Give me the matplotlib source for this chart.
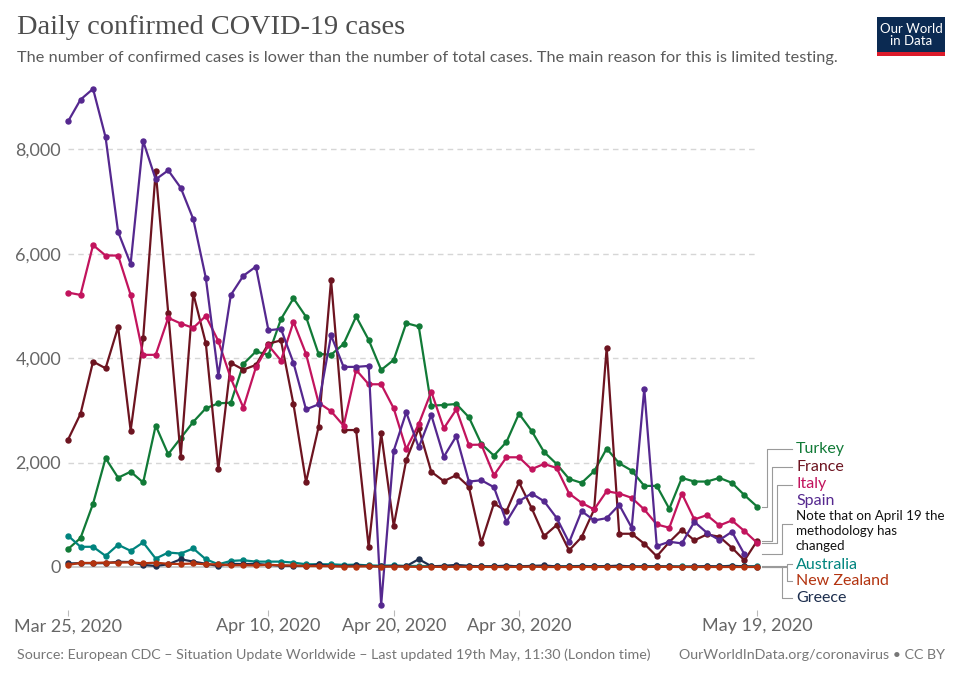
import numpy as np
import matplotlib
matplotlib.use("Agg")
import matplotlib.pyplot as plt
from matplotlib.lines import Line2D
from matplotlib.patches import Rectangle

plt.rcParams['font.family'] = ['Lato', 'DejaVu Sans']

# day index 0 = Mar 25, 2020 ... 55 = May 19, 2020
tick_days = [0, 16, 26, 36, 55]
tick_labels = ["Mar 25, 2020", "Apr 10, 2020", "Apr 20, 2020", "Apr 30, 2020", "May 19, 2020"]

turkey = [342, 555, 1213, 2084, 1710, 1826, 1619, 2710, 2161, 2471, 2781, 3040,
          3136, 3148, 3890, 4129, 4065, 4749, 5148, 4794, 4084, 4065, 4275, 4800,
          4352, 3776, 3968, 4672, 4608, 3091, 3104, 3123, 2870, 2357, 2134, 2395,
          2937, 2612, 2204, 1975, 1688, 1612, 1835, 2268, 1987, 1847, 1554, 1554,
          1115, 1707, 1637, 1637, 1707, 1612, 1376, 1159]
france = [2439, 2936, 3936, 3807, 4600, 2613, 4387, 7588, 4871, 2116, 5239, 4290,
          1871, 3910, 3781, 3871, 4278, 4342, 3116, 1626, 2678, 5497, 2624, 2624,
          384, 2560, 787, 2048, 2656, 1824, 1645, 1760, 1540, 465, 1217, 1070,
          1624, 1134, 592, 803, 318, 573, 1102, 4204, 637, 637, 446, 204,
          478, 713, 510, 624, 580, 369, 127, 497]
italy = [5258, 5213, 6168, 5968, 5968, 5213, 4065, 4065, 4774, 4665, 4581, 4810,
         4329, 3613, 3052, 3826, 4245, 3955, 4697, 4084, 3148, 2985, 2707, 3776,
         3501, 3501, 3040, 2259, 2739, 3360, 2656, 3021, 2340, 2344, 1758, 2102,
         2102, 1873, 1975, 1898, 1408, 1229, 1102, 1452, 1408, 1325, 1102, 815,
         752, 1408, 911, 994, 796, 892, 688, 465]
spain = [8536, 8955, 9162, 8233, 6420, 5807, 8162, 7426, 7600, 7265, 6665, 5540,
         3665, 5213, 5581, 5755, 4536, 4562, 3910, 3020, 3116, 4437, 3834, 3834,
         3853, -723, 2227, 2963, 2291, 2912, 2112, 2509, 1637, 1662, 1529, 866,
         1261, 1408, 1261, 943, 471, 1070, 892, 936, 1191, 752, 3414, 401,
         484, 452, 866, 656, 516, 675, 242]
australia = [600, 387, 387, 213, 426, 310, 471, 161, 277, 258, 355, 148,
             52, 116, 129, 103, 103, 103, 84, 52, 52, 52, 40, 45,
             30, 25, 30, 20, 20, 15, 20, 25, 20, 15, 10, 20,
             15, 20, 15, 10, 15, 20, 15, 15, 20, 10, 15, 15,
             10, 10, 5, 10, 10, 25, 10, 15]
new_zealand = [40, 78, 78, 85, 83, 89, 71, 83, 61, 58, 67, 52,
               50, 32, 35, 29, 44, 30, 29, 19, 18, 15, 9, 9,
               13, 6, 9, 5, 3, 5, 0, 5, 3, 2, 0, 0,
               2, 6, 0, 0, 0, 2, 0, 2, 0, 2, 0, 3,
               2, 0, 0, 0, 0, 0, 0, 0]
greece = [67, 74, 71, 74, 100, 95, 40, 20, 52, 148, 103, 62,
          20, 60, 56, 60, 40, 25, 20, 20, 50, 20, 15, 30,
          20, 10, 20, 15, 150, 15, 20, 40, 20, 10, 15, 25,
          10, 20, 30, 10, 10, 15, 10, 15, 25, 10, 10, 10,
          10, 5, 10, 15, 10, 20, 10, 5]

series = [
    ("Turkey", turkey, "#117a37"),
    ("France", france, "#6d1420"),
    ("Italy", italy, "#c2145d"),
    ("Spain", spain, "#55288f"),
    ("Australia", australia, "#00847e"),
    ("Greece", greece, "#1d2e4e"),
    ("New Zealand", new_zealand, "#b3330f"),
]

W, H = 962, 680
fig = plt.figure(figsize=(W / 100, H / 100), dpi=100)


def fx(x):
    return x / W


def fy(y):
    return 1 - y / H


ax = fig.add_axes([fx(68), fy(610), (757 - 68) / W, 530 / H])
ax.set_xlim(0, 55)
ax.set_ylim(-824, 9331)

for name, vals, col in series:
    ax.plot(np.arange(len(vals)), vals, color=col, lw=1.6, marker='o',
            ms=3.6, clip_on=False, zorder=3)

ax.set_yticks([0, 2000, 4000, 6000, 8000])
ax.set_yticklabels(["0", "2,000", "4,000", "6,000", "8,000"])
for v in [2000, 4000, 6000, 8000]:
    ax.axhline(v, color='#d6d6d6', lw=1, ls=(0, (4, 3)), zorder=1)
ax.axhline(0, color='#c4c4c4', lw=1.2, zorder=1)

ax.set_xticks(tick_days)
ax.set_xticklabels(tick_labels)
ax.tick_params(axis='y', length=0, pad=5, labelsize=13, labelcolor='#666666')
ax.tick_params(axis='x', length=4, width=0.8, color='#bbbbbb', pad=2,
               labelsize=13, labelcolor='#666666')
for s in ax.spines.values():
    s.set_visible(False)

# end labels with connectors
labels = [
    ("Turkey", "#117a37", 449),
    ("France", "#6d1420", 467),
    ("Italy", "#c2145d", 484),
    ("Spain", "#55288f", 501),
    ("Australia", "#00847e", 565),
    ("New Zealand", "#b3330f", 581),
    ("Greece", "#1d2e4e", 598),
]
for txt, col, y in labels:
    fig.text(fx(796), fy(y), txt, color=col, fontsize=11.5, va='center', ha='left')
fig.text(fx(796), fy(531), "Note that on April 19 the\nmethodology has\nchanged",
         color='#111111', fontsize=9.6, va='center', ha='left', linespacing=1.25)

last = {name: vals[-1] for name, vals, col in series}
conn = [
    (last["Turkey"], 767, 449),
    (last["France"], 772, 467),
    (last["Italy"], 777, 485),
    (last["Spain"], 782, 524),
    (last["Australia"], 787, 564),
    (last["New Zealand"], 787, 581),
    (last["Greece"], 782, 598),
]
fig.canvas.draw()
for v, ex, ly in conn:
    sy = H - ax.transData.transform((55, v))[1]
    xs = [fx(762), fx(ex), fx(ex), fx(792)]
    ys = [fy(sy), fy(sy), fy(ly), fy(ly)]
    fig.add_artist(Line2D(xs, ys, color='#9a9a9a', lw=0.8))

# titles
fig.text(fx(17), fy(34), "Daily confirmed COVID-19 cases", family='Liberation Serif',
         fontsize=20.4, color='#4d4d4d', va='baseline', ha='left')
fig.text(fx(17), fy(58), "The number of confirmed cases is lower than the number of total cases. "
         "The main reason for this is limited testing.",
         fontsize=11.8, color='#5b5b5b', va='center', ha='left')

# logo
fig.add_artist(Rectangle((fx(877), fy(52)), 68 / W, 35 / H, transform=fig.transFigure,
                         color='#0b2a52', lw=0))
fig.add_artist(Rectangle((fx(877), fy(56)), 68 / W, 4 / H, transform=fig.transFigure,
                         color='#dc1a2a', lw=0))
fig.text(fx(911), fy(35), "Our World\nin Data", color='white', fontsize=9.5,
         ha='center', va='center', linespacing=1.05)

# footer
fig.text(fx(17), fy(655), "Source: European CDC \u2013 Situation Update Worldwide \u2013 "
         "Last updated 19th May, 11:30 (London time)",
         fontsize=10.3, color='#777777', va='center', ha='left')
fig.text(fx(945), fy(655), "OurWorldInData.org/coronavirus \u2022 CC BY",
         fontsize=10.3, color='#777777', va='center', ha='right')

fig.savefig("out.png", dpi=100)
